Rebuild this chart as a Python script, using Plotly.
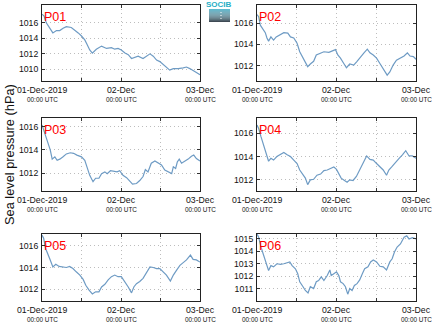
import plotly.graph_objects as go
from datetime import datetime, timedelta

START = datetime(2019, 12, 1)

stations = ["P01", "P02", "P03", "P04", "P05", "P06"]

p01_hours = [0, 0.6, 1.3, 2.3, 3.3, 4.4, 5.4, 6.4, 7.4, 8.9, 9.9, 11.0, 12.0, 13.0, 13.7, 14.5, 15.3, 16.5, 18.1, 19.6,
             21.1, 22.1, 23.1, 24.1, 25.2, 26.2, 27.2, 28.2, 29.2, 30.7, 31.7, 32.8, 33.8, 34.8, 35.8, 36.8, 37.8, 38.8,
             39.9, 41.4, 42.9, 43.9, 44.9, 45.9, 46.9, 48]
p01_hpa = [1017.1, 1016.9, 1016.0, 1015.3, 1014.7, 1015.0, 1015.0, 1015.3, 1015.5, 1015.4, 1015.1, 1014.7, 1014.3,
           1013.8, 1013.2, 1012.5, 1012.1, 1012.6, 1013.0, 1012.7, 1012.8, 1012.6, 1012.7, 1012.5, 1012.1, 1011.9,
           1011.4, 1011.6, 1011.7, 1011.4, 1011.7, 1012.0, 1011.7, 1011.2, 1011.0, 1010.6, 1010.3, 1009.9, 1010.1,
           1010.1, 1010.2, 1010.3, 1010.1, 1009.8, 1009.6, 1009.3]

p02_hours = [0, 0.5, 1.0, 1.8, 2.5, 3.0, 3.5, 4.2, 5.0, 5.8, 7.1, 8.1, 9.3, 10.1, 11.1, 12.1, 12.9, 13.6, 14.3, 15.3,
             16.1, 17.1, 17.9, 19.2, 20.2, 21.7, 22.7, 23.7, 24.4, 25.2, 26.2, 27.0, 28.0, 29.2, 30.2, 31.3, 32.3, 33.3,
             34.1, 35.1, 36.1, 37.1, 38.1, 39.3, 40.1, 41.1, 42.1, 43.3, 44.4, 45.4, 46.2, 47.2, 48]
p02_hpa = [1016.8, 1016.6, 1015.8, 1015.4, 1015.1, 1014.6, 1014.3, 1014.7, 1014.4, 1014.7, 1014.9, 1015.1, 1015.05,
           1014.7, 1014.6, 1014.1, 1013.3, 1012.85, 1012.4, 1011.9, 1012.15, 1012.4, 1013.0, 1013.2, 1013.3, 1013.25,
           1013.4, 1013.5, 1013.0, 1012.7, 1012.2, 1011.8, 1012.15, 1012.05, 1012.4, 1012.85, 1013.2, 1013.55, 1013.2,
           1013.0, 1012.7, 1012.2, 1011.75, 1011.1, 1011.4, 1012.05, 1012.5, 1012.7, 1012.9, 1013.2, 1012.9, 1012.85,
           1012.6]

p03_hours = [0, 0.5, 1.1, 1.8, 2.5, 3.1, 3.9, 4.6, 5.4, 6.4, 7.4, 8.6, 9.6, 10.6, 12.0, 13.0, 13.7, 14.5, 15.5, 16.3,
             17.3, 18.1, 19.1, 19.8, 20.8, 21.8, 22.8, 23.6, 24.6, 25.7, 26.7, 27.5, 28.7, 29.7, 30.7, 31.4, 32.2, 33.2,
             34.3, 35.3, 36.3, 37.3, 38.3, 39.4, 39.9, 40.6, 41.1, 41.7, 42.4, 43.4, 44.4, 45.4, 46.1, 46.9, 48]
p03_hpa = [1016.15, 1015.7, 1015.1, 1014.55, 1014.0, 1013.2, 1013.4, 1013.1, 1013.2, 1013.4, 1013.65, 1013.75,
           1013.7, 1013.55, 1013.4, 1013.1, 1012.4, 1011.8, 1011.25, 1011.55, 1011.55, 1011.95, 1012.1, 1011.95,
           1012.2, 1012.15, 1012.1, 1012.2, 1011.8, 1011.6, 1011.3, 1011.05, 1011.1, 1011.35, 1011.7, 1012.3, 1012.1,
           1012.85, 1013.05, 1012.9, 1012.7, 1012.25, 1012.1, 1011.95, 1012.55, 1012.4, 1012.95, 1013.2, 1012.85,
           1013.0, 1013.2, 1013.45, 1013.55, 1013.25, 1013.05]

p04_hours = [0, 0.5, 1.2, 2.0, 2.8, 3.5, 4.2, 5.0, 6.0, 7.1, 8.1, 9.1, 10.1, 11.1, 12.1, 12.9, 13.9, 14.6, 15.3, 16.1,
             17.1, 18.1, 19.2, 20.2, 21.2, 22.2, 23.2, 24.0, 24.7, 25.4, 26.2, 27.2, 28.0, 29.0, 30.0, 31.0, 32.1, 33.1,
             34.1, 35.1, 36.1, 37.1, 38.1, 39.1, 39.8, 40.8, 41.9, 42.9, 43.9, 44.9, 45.9, 46.9, 48]
p04_hpa = [1016.7, 1016.4, 1015.7, 1015.0, 1014.3, 1013.6, 1013.85, 1013.7, 1014.0, 1014.15, 1014.35, 1014.15,
           1014.0, 1013.7, 1013.4, 1012.85, 1012.4, 1012.15, 1011.6, 1012.0, 1012.05, 1012.4, 1012.5, 1012.8, 1012.85,
           1013.0, 1013.1, 1012.9, 1012.55, 1012.15, 1012.0, 1011.8, 1012.0, 1011.95, 1012.3, 1012.85, 1013.4, 1014.05,
           1013.75, 1013.7, 1013.4, 1013.1, 1012.85, 1012.4, 1012.85, 1013.15, 1013.55, 1013.85, 1014.15, 1014.5,
           1014.05, 1014.05, 1013.85]

p05_hours = [0, 0.5, 1.1, 1.8, 2.5, 3.3, 4.2, 5.2, 6.4, 7.4, 8.4, 9.4, 10.4, 11.5, 12.5, 13.3, 14.3, 15.3, 16.3, 17.3,
             18.1, 19.1, 20.1, 21.1, 22.1, 23.1, 24.1, 25.2, 26.2, 27.2, 27.9, 28.7, 29.7, 30.7, 31.7, 32.8, 33.8, 34.8,
             35.8, 36.8, 37.8, 39.0, 39.9, 40.9, 41.9, 42.9, 43.9, 45.1, 45.9, 46.9, 48]
p05_hpa = [1017.0, 1016.7, 1015.75, 1015.3, 1014.7, 1014.05, 1014.3, 1014.1, 1014.05, 1014.0, 1014.1, 1013.9, 1013.6,
           1013.3, 1012.9, 1012.35, 1011.9, 1011.55, 1011.75, 1011.75, 1012.2, 1012.45, 1012.85, 1013.15, 1013.3,
           1013.15, 1013.15, 1012.7, 1012.2, 1011.65, 1012.2, 1012.5, 1012.7, 1013.0, 1013.45, 1014.05, 1014.0, 1013.9,
           1013.9, 1013.6, 1013.3, 1012.75, 1013.3, 1013.75, 1014.2, 1014.45, 1014.7, 1015.15, 1014.75, 1014.7, 1014.5]

p06_hours = [0, 0.5, 1.2, 2.0, 2.8, 3.5, 4.2, 5.0, 6.0, 7.1, 8.1, 9.1, 9.9, 10.6, 11.6, 12.3, 12.9, 13.9, 14.6, 15.4,
             16.1, 17.1, 17.9, 18.6, 19.4, 20.2, 21.2, 22.0, 22.4, 23.2, 24.0, 24.7, 25.2, 26.0, 26.7, 27.4, 28.0, 28.7,
             29.4, 30.2, 31.0, 31.8, 32.5, 33.5, 34.3, 35.1, 36.1, 37.1, 38.1, 39.1, 40.1, 40.8, 41.5, 42.3, 43.3, 44.4,
             45.2, 45.9, 46.9, 48]
p06_hpa = [1015.4, 1015.15, 1014.35, 1013.65, 1013.0, 1012.45, 1012.85, 1012.75, 1013.0, 1012.95, 1013.0, 1013.05,
           1013.15, 1012.85, 1012.6, 1012.2, 1011.55, 1011.15, 1010.85, 1010.65, 1011.15, 1011.0, 1011.55, 1011.65,
           1011.95, 1011.65, 1012.05, 1012.5, 1012.05, 1012.2, 1012.35, 1012.05, 1011.55, 1011.4, 1011.15, 1010.55,
           1011.0, 1010.85, 1011.25, 1011.4, 1011.7, 1012.2, 1012.6, 1012.75, 1013.15, 1013.3, 1013.15, 1012.8, 1012.75,
           1012.5, 1013.15, 1013.4, 1013.95, 1014.35, 1014.6, 1015.15, 1015.25, 1015.0, 1015.1, 1015.0]

series_hours = [p01_hours, p02_hours, p03_hours, p04_hours, p05_hours, p06_hours]
series_hpa = [p01_hpa, p02_hpa, p03_hpa, p04_hpa, p05_hpa, p06_hpa]

y_ranges = [[1008.5, 1018.3], [1010.55, 1017.7], [1010.45, 1016.75],
            [1011.05, 1017.3], [1010.9, 1017.1], [1010.0, 1015.4]]
y_ticks = [[1010, 1012, 1014, 1016], [1012, 1014, 1016], [1012, 1014, 1016],
           [1012, 1014, 1016], [1012, 1014, 1016], [1011, 1012, 1013, 1014, 1015]]

grid_hours = [0, 12, 24, 36, 48]
date_labels = ["01-Dec-2019", "02-Dec", "03-Dec"]
date_label_hours = [0, 24, 48]
time_label = "00:00 UTC"
y_title = "Sea level pressure (hPa)"

W, H = 434, 327
col_px = [(42, 200), (257, 416)]
row_px = [(5, 81), (118, 191), (234, 301)]

FONT = "Liberation Sans, Arial, sans-serif"
LINE_COLOR = "#6e9bc4"
GRID = "#bdbdbd"
GRID_DASH = "1px,3px"

fig = go.Figure()
annotations = []
for i, name in enumerate(stations):
    r, c = divmod(i, 2)
    n = "" if i == 0 else str(i + 1)
    xs = [START + timedelta(hours=h) for h in series_hours[i]]
    fig.add_trace(go.Scatter(x=xs, y=series_hpa[i], mode="lines",
                             line=dict(color=LINE_COLOR, width=1.2),
                             xaxis="x" + n, yaxis="y" + n, showlegend=False))
    x0, x1 = col_px[c]
    y0, y1 = row_px[r]
    xd = [x0 / W, x1 / W]
    yd = [1 - y1 / H, 1 - y0 / H]
    fig.layout["xaxis" + n] = dict(
        domain=xd, anchor="y" + n, type="date",
        range=[START, START + timedelta(hours=48)],
        tickvals=[START + timedelta(hours=h) for h in grid_hours],
        showticklabels=False, ticks="inside", ticklen=3, tickcolor="#333",
        showgrid=True, gridcolor=GRID, griddash=GRID_DASH, gridwidth=1,
        showline=True, linecolor="#222", linewidth=1, mirror="ticks", zeroline=False)
    fig.layout["yaxis" + n] = dict(
        domain=yd, anchor="x" + n, range=y_ranges[i], tickvals=y_ticks[i],
        ticktext=[str(v) for v in y_ticks[i]],
        ticks="inside", ticklen=3, tickcolor="#333",
        tickfont=dict(family=FONT, size=8.7, color="#111"),
        showgrid=True, gridcolor=GRID, griddash=GRID_DASH, gridwidth=1,
        showline=True, linecolor="#222", linewidth=1, mirror="ticks", zeroline=False,
        ticklabelstandoff=1)
    annotations.append(dict(text=name, xref="x" + n + " domain", yref="y" + n + " domain",
                            x=0, y=1, xanchor="left", yanchor="top", xshift=0, yshift=-3,
                            showarrow=False, font=dict(family=FONT, size=12.5, color="#ff0000")))
    for lbl, h in zip(date_labels, date_label_hours):
        t = START + timedelta(hours=h)
        annotations.append(dict(text=lbl, xref="x" + n, yref="y" + n + " domain", x=t, y=0,
                                xanchor="center", yanchor="middle", yshift=-8.5, showarrow=False,
                                font=dict(family=FONT, size=8.7, color="#111")))
        annotations.append(dict(text=time_label, xref="x" + n, yref="y" + n + " domain", x=t, y=0,
                                xanchor="center", yanchor="middle", yshift=-18.5, showarrow=False,
                                font=dict(family=FONT, size=6.4, color="#111")))

annotations.append(dict(text=y_title, xref="paper", yref="paper", x=9 / W, y=1 - 155 / H,
                        xanchor="center", yanchor="middle", textangle=-90, showarrow=False,
                        font=dict(family=FONT, size=12.8, color="#111")))

# logo
shapes = []
lx0, lx1, ly0, ly1 = 209, 230, 9, 22
steps = 12
c_top = (95, 185, 205)
c_bot = (62, 74, 84)
for k in range(steps):
    f = k / (steps - 1)
    col = tuple(int(c_top[j] + (c_bot[j] - c_top[j]) * f) for j in range(3))
    ya = ly0 + (ly1 - ly0) * k / steps
    yb = ly0 + (ly1 - ly0) * (k + 1) / steps
    shapes.append(dict(type="rect", xref="paper", yref="paper", x0=lx0 / W, x1=lx1 / W,
                       y0=1 - yb / H, y1=1 - ya / H, line=dict(width=0),
                       fillcolor="rgb(%d,%d,%d)" % col))
shapes.append(dict(type="line", xref="paper", yref="paper", x0=221 / W, x1=221 / W,
                   y0=1 - 19 / H, y1=1 - 11 / H, line=dict(color="white", width=1, dash="1px,2px")))
annotations.append(dict(text="<b>SOCIB</b>", xref="paper", yref="paper", x=219.5 / W, y=1 - 4.5 / H,
                        xanchor="center", yanchor="middle", showarrow=False,
                        font=dict(family=FONT, size=8, color="#27aec6")))

fig.update_layout(width=W, height=H, margin=dict(l=0, r=0, t=0, b=0),
                  paper_bgcolor="white", plot_bgcolor="white",
                  annotations=annotations, shapes=shapes, showlegend=False)

fig.write_html("out.html")
